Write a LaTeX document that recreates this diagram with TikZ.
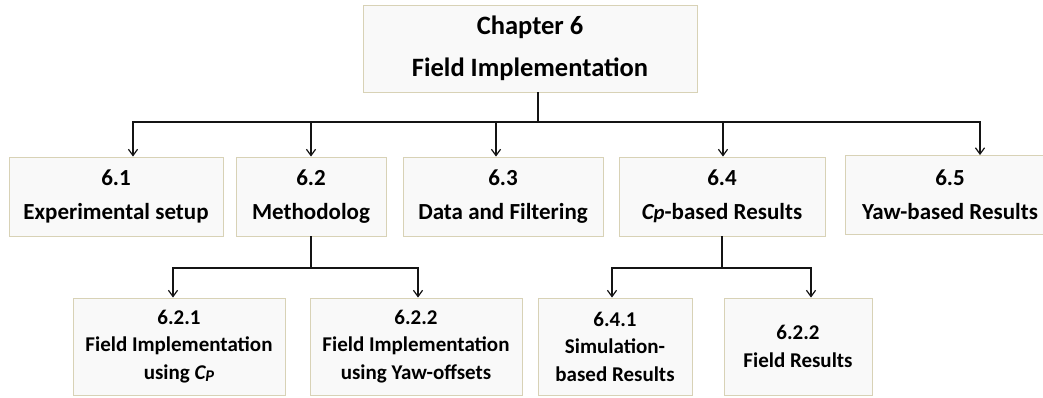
\documentclass[tikz,border=0pt]{standalone}
\usepackage{fontspec}
\setmainfont{Carlito}
\usetikzlibrary{arrows.meta, positioning, calc}
\definecolor{boxfill}{RGB}{249, 249, 249}
\definecolor{boxline}{RGB}{216, 210, 182}
\definecolor{linecol}{RGB}{20, 20, 20}
\tikzset{
  blk/.style    = {draw=boxline, fill=boxfill, align=center, inner sep=2pt,
                   font=\bfseries, line width=0.9pt},
  chap/.style   = {blk, minimum width=334, minimum height=87,
                   font=\bfseries\fontsize{26.5}{42}\selectfont},
  sect/.style   = {blk, minimum height=79,
                   font=\bfseries\fontsize{23}{34}\selectfont},
  subsect/.style = {blk, minimum height=97,
                   font=\bfseries\fontsize{21}{27.5}\selectfont},
  flow/.style   = {-{Straight Barb[length=2.2mm, width=3.2mm]}, draw=linecol,
                   line width=1.2pt},
  stem/.style   = {draw=linecol, line width=1.2pt},
}
\newcommand{\cpsym}{\textit{C\raisebox{-0.12em}{\scalebox{0.78}{P}}}}
\newcommand{\cplow}{\textit{C\scalebox{0.9}{p}}}

\begin{document}
\begin{tikzpicture}[x=1pt, y=-1pt]
  \useasboundingbox (0,0) rectangle (1043,397);

  %% ---------------- chapter ----------------
  \node[chap] (ch6) at (530,48.5) {Chapter 6\\Field Implementation};
  \coordinate (bus) at (538,122);
  \draw[stem] (ch6.south -| bus) -- (bus);

  %% ---------------- sections ----------------
  \node[sect, minimum width=214] (s61) at (116,196.5) {6.1\\Experimental setup};
  \node[sect, minimum width=150] (s62) at (311,196.5) {6.2\\Methodolog};
  \node[sect, minimum width=200] (s63) at (503,196.5) {6.3\\Data and Filtering};
  \node[sect, minimum width=206] (s64) at (722,196.5) {6.4\\\cplow-based Results};
  \node[sect, minimum width=210] (s65) at (950,195) {6.5\\Yaw-based Results};

  \draw[flow] (bus) -| ([xshift=17]s61.north);
  \draw[flow] (bus) -| (s62.north);
  \draw[flow] (bus) -| ([xshift=-7]s63.north);
  \draw[flow] (bus) -| ([xshift=1]s64.north);
  \draw[flow] (bus) -| ([xshift=30]s65.north);

  %% ---------------- subsections of 6.2 ----------------
  \node[subsect, minimum width=212] (s621) at (179,346.5)
       {6.2.1\\Field Implementation\\using \cpsym};
  \node[subsect, minimum width=212] (s622) at (416,346.5)
       {6.2.2\\Field Implementation\\using Yaw-offsets};
  \coordinate (bus62) at (311,268);
  \draw[stem] (s62.south) -- (bus62);
  \draw[flow] (bus62) -| ([xshift=-6]s621.north);
  \draw[flow] (bus62) -| ([xshift=2]s622.north);

  %% ---------------- subsections of 6.4 ----------------
  \node[subsect, minimum width=154] (s641) at (615,346.5)
       {6.4.1\\Simulation-\\based Results};
  \node[subsect, minimum width=148] (s642) at (798,346.5)
       {6.2.2\\Field Results};
  \coordinate (bus64) at (722,268);
  \draw[stem] (s64.south) -- (bus64);
  \draw[flow] (bus64) -| ([xshift=-3]s641.north);
  \draw[flow] (bus64) -| ([xshift=13]s642.north);
\end{tikzpicture}
\end{document}
